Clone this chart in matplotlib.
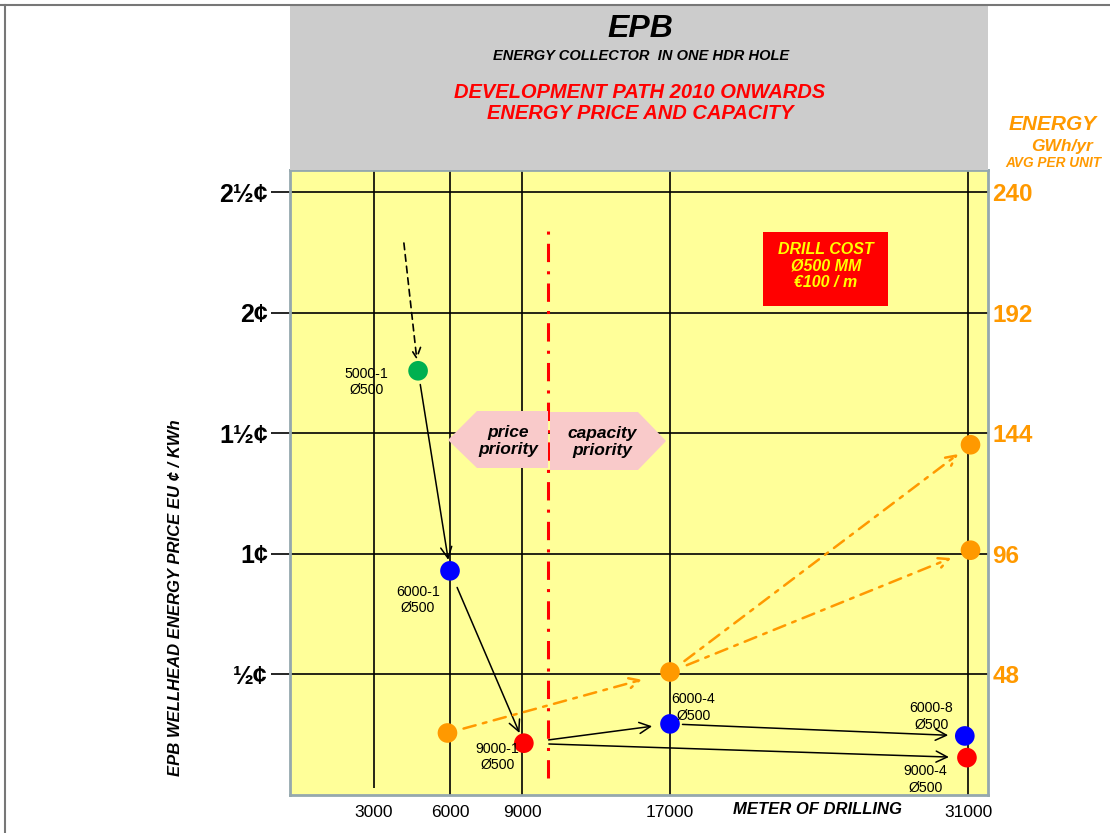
import matplotlib.pyplot as plt
import numpy as np
from matplotlib.patches import Rectangle, Polygon
from matplotlib.lines import Line2D

plt.rcParams['font.family'] = ['Liberation Sans', 'DejaVu Sans']

# ---- data ----
drill_ticks = [3000, 6000, 9000, 17000, 31000]
price_ticks = [0.5, 1.0, 1.5, 2.0, 2.5]
price_labels = ['½¢', '1¢', '1½¢', '2¢', '2½¢']
energy_ticks = [48, 96, 144, 192, 240]

unit_names = ['5000-1', '6000-1', '9000-1', '6000-4', '6000-8', '9000-4']
unit_drill = [4740, 6000, 9100, 17000, 30850, 30950]
unit_price = [1.76, 0.93, 0.215, 0.295, 0.245, 0.155]
unit_colors = ['#00B050', '#0000FF', '#FF0000', '#0000FF', '#0000FF', '#FF0000']
# label offsets (points) for each unit label
unit_label_off = [(-37, -8), (-23, -21), (-19, -10), (17, 12), (-24, 14), (-30, -16)]

# price path arrows: (from, to, shrinkA, shrinkB)
price_paths = [(0, 1, 10, 8), (1, 2, 13, 8), (2, 3, 18, 13), (2, 5, 18, 13), (3, 4, 9, 12)]

energy_drill = [5900, 17000, 31100, 31100]
energy_gwh = [24.7, 49, 139.5, 97.5]
energy_paths = [(0, 1, 12, 21), (1, 2, 13, 11), (1, 3, 13, 15)]

# start of the dashed arrow into 5000-1
start_drill, start_price = 4180, 2.29
# split line between price and capacity priority
split_drill = 10400

orange = '#FF9900'

# non-uniform drilling axis (piecewise linear, as in the original sketch)
scale_m = [0, 3000, 6000, 9000, 17000, 31000, 31800]
scale_u = [0, 84, 160, 232, 380, 678, 698]


def fwd(x):
    return np.interp(x, scale_m, scale_u)


def inv(u):
    return np.interp(u, scale_u, scale_m)


fig = plt.figure(figsize=(11.1, 8.33), dpi=100)
W, H = 1110, 833


def fx(px):
    return px / W


def fy(py):
    return 1 - py / H


def af(px, py):
    return ((px - 290) / 698, (795 - py) / 625)


ax = fig.add_axes([fx(290), fy(795), 698 / W, 625 / H])
ax.set_facecolor('#FFFF99')
ax.set_xscale('function', functions=(fwd, inv))
ax.set_xlim(0, 31800)
ax.set_ylim(0, 2.593)

ax2 = ax.twinx()
ax2.set_ylim(0, 2.593 * 96)

# header block and figure border
fig.patches.append(Rectangle((fx(290), fy(170)), 698 / W, 165 / H, transform=fig.transFigure,
                             facecolor='#CCCCCC', edgecolor='none', zorder=0))
fig.lines.append(Line2D([0, 1], [fy(5), fy(5)], transform=fig.transFigure, color='#777777', lw=1.5))
fig.lines.append(Line2D([fx(5), fx(5)], [0, fy(5)], transform=fig.transFigure, color='#777777', lw=1.5))

# grid
for p in price_ticks:
    ax.axhline(p, color='black', lw=1.2, zorder=1)
for d in drill_ticks:
    ax.vlines(d, 0.03 if d == 3000 else 0, 2.593, color='black', lw=1.2, zorder=1)

for s in ax.spines.values():
    s.set_color('#95A8AE')
    s.set_linewidth(2)
for s in ax2.spines.values():
    s.set_visible(False)

ax.set_yticks(price_ticks)
ax.set_yticklabels(price_labels, fontsize=18, fontweight='bold')
ax.tick_params(axis='y', length=14, width=1.2, pad=2)
ax.set_xticks(drill_ticks)
ax.set_xticklabels([str(d) for d in drill_ticks], fontsize=12.5)
ax.tick_params(axis='x', length=0, pad=7)
ax.xaxis.set_minor_locator(plt.NullLocator())

ax2.set_yticks(energy_ticks)
ax2.set_yticklabels([str(e) for e in energy_ticks], fontsize=17.5, fontweight='bold', color=orange)
ax2.tick_params(axis='y', length=0, pad=3)

# split line
ax.vlines(split_drill, 0.07, 2.378, color='red', lw=2.2, linestyles=(0, (6, 3, 1, 3)), zorder=2)

# priority arrows
pink = '#F9CACA'
ax.add_patch(Polygon([af(448, 440), af(477, 411), af(548, 411), af(548, 468), af(477, 468)],
                     closed=True, transform=ax.transAxes, facecolor=pink, edgecolor='none', zorder=3))
ax.add_patch(Polygon([af(550, 412), af(638, 412), af(666, 441), af(638, 470), af(550, 470)],
                     closed=True, transform=ax.transAxes, facecolor=pink, edgecolor='none', zorder=3))
ax.text(*af(508, 441), 'price\npriority', transform=ax.transAxes, ha='center', va='center',
        fontsize=12.5, fontweight='bold', style='italic', linespacing=1.15, zorder=4)
ax.text(*af(602, 442), 'capacity\npriority', transform=ax.transAxes, ha='center', va='center',
        fontsize=12.5, fontweight='bold', style='italic', linespacing=1.15, zorder=4)

# drill cost box
ax.add_patch(Rectangle(af(763, 306), 125 / 698, 74 / 625, transform=ax.transAxes,
                       facecolor='#FF0000', edgecolor='none', zorder=3))
ax.text(*af(826, 266), 'DRILL COST\nØ500 MM\n€100 / m', transform=ax.transAxes, ha='center',
        va='center', fontsize=11.5, fontweight='bold', style='italic', color='#FFFF00',
        linespacing=1.1, zorder=4)

# dashed arrow into the first unit
ax.annotate('', xy=(unit_drill[0], unit_price[0]), xytext=(start_drill, start_price),
            arrowprops=dict(arrowstyle='->', color='black', lw=1.2, linestyle=(0, (4, 3)),
                            shrinkA=0, shrinkB=8, mutation_scale=18), zorder=5)

# price path
for a, b, sa, sb in price_paths:
    ax.annotate('', xy=(unit_drill[b], unit_price[b]), xytext=(unit_drill[a], unit_price[a]),
                arrowprops=dict(arrowstyle='->', color='black', lw=1.1, shrinkA=sa, shrinkB=sb,
                                mutation_scale=20), zorder=5)

# energy path
for a, b, sa, sb in energy_paths:
    ax2.annotate('', xy=(energy_drill[b], energy_gwh[b]), xytext=(energy_drill[a], energy_gwh[a]),
                 arrowprops=dict(arrowstyle='->', color=orange, lw=1.8, linestyle=(0, (5, 3, 1.5, 3)),
                                 shrinkA=sa, shrinkB=sb, mutation_scale=18), zorder=5)

ax.scatter(unit_drill, unit_price, s=200, c=unit_colors, zorder=6, edgecolors='none')
ax2.scatter(energy_drill, energy_gwh, s=200, c=orange, zorder=6, edgecolors='none')

for name, d, p, off in zip(unit_names, unit_drill, unit_price, unit_label_off):
    ax.annotate(name + '\nØ500', (d, p), xytext=off, textcoords='offset points', ha='center',
                va='center', fontsize=10.2, linespacing=1.25, zorder=7)

# texts around the plot
fig.text(fx(640), fy(29), 'EPB', ha='center', va='center', fontsize=23, fontweight='bold', style='italic')
fig.text(fx(641), fy(56), 'ENERGY COLLECTOR  IN ONE HDR HOLE', ha='center', va='center',
         fontsize=10.5, fontweight='bold', style='italic')
fig.text(fx(640), fy(103), 'DEVELOPMENT PATH 2010 ONWARDS\nENERGY PRICE AND CAPACITY', ha='center',
         va='center', fontsize=14.5, fontweight='bold', style='italic', color='#FF0000', linespacing=1.1)
fig.text(fx(1053), fy(124), 'ENERGY', ha='center', va='center', fontsize=15, fontweight='bold',
         style='italic', color=orange)
fig.text(fx(1062), fy(146), 'GWh/yr', ha='center', va='center', fontsize=12.5, fontweight='bold',
         style='italic', color=orange)
fig.text(fx(1053), fy(163), 'AVG PER UNIT', ha='center', va='center', fontsize=9.8, fontweight='bold',
         style='italic', color=orange)
fig.text(fx(817), fy(810), 'METER OF DRILLING', ha='center', va='center', fontsize=12,
         fontweight='bold', style='italic')
fig.text(fx(175), fy(598), 'EPB WELLHEAD ENERGY PRICE EU ¢ / KWh', ha='center', va='center',
         rotation=90, fontsize=12, fontweight='bold', style='italic')

fig.savefig('out.png', dpi=100, facecolor='white')
